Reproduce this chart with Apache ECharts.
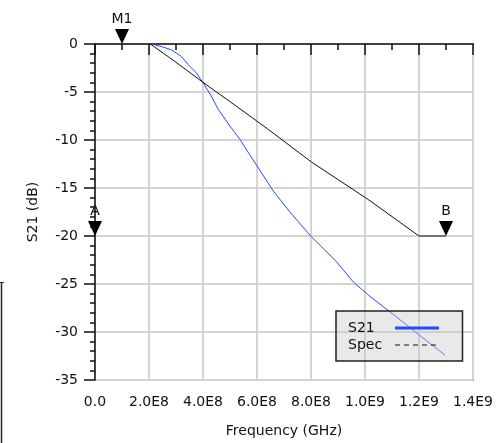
<!DOCTYPE html>
<html>
<head>
<meta charset="utf-8">
<script src="https://cdn.jsdelivr.net/npm/echarts@6/dist/echarts.min.js"></script>
<style>
  html, body { margin: 0; padding: 0; background: #fff; }
  #s21-chart { width: 500px; height: 443px; }
</style>
</head>
<body>
<div id="s21-chart"></div>
<script>
// S21 measured curve (Hz, dB)
var s21Freq = [2.1e8, 2.5e8, 2.84e8, 3.2e8, 3.46e8, 3.75e8, 4.01e8, 4.3e8, 4.57e8, 5.0e8, 5.37e8, 5.56e8, 6.0e8, 6.6e8, 7.22e8, 8.02e8, 8.4e8, 8.95e8, 9.57e8, 1.019e9, 1.074e9, 1.111e9, 1.191e9, 1.296e9];
var s21Db = [0, -0.3, -0.62, -1.3, -2.17, -3.0, -4.07, -5.4, -6.83, -8.56, -9.94, -10.8, -12.7, -15.3, -17.5, -20.1, -21.15, -22.7, -24.8, -26.3, -27.5, -28.3, -30.1, -32.4];

// Spec mask line
var specFreq = [2.05e8, 3.0e8, 4.0e8, 5.0e8, 6.42e8, 8.02e8, 1.012e9, 1.2e9, 1.3e9];
var specDb = [0, -1.9, -4.0, -6.0, -8.9, -12.3, -16.2, -20, -20];

// markers
var markerNames = ["M1", "A", "B"];
var markerFreq = [1.0e8, 0, 1.3e9];
var markerDb = [0, -20, -20];

// axis ticks
var xMin = 0, xMax = 1.4e9, xStep = 2e8;
var yMin = -35, yMax = 0, yStep = 5;

function pairs(xs, ys) {
  var out = [];
  for (var i = 0; i < xs.length; i++) out.push([xs[i], ys[i]]);
  return out;
}

var font = "DejaVu Sans";
var textColor = "#111";
var blue = "#1f4dff";
var chart = echarts.init(document.getElementById("s21-chart"), null, { renderer: "canvas" });

var markerData = [];
for (var i = 0; i < markerNames.length; i++) {
  markerData.push({ name: markerNames[i], value: [markerFreq[i], markerDb[i]] });
}

var option = {
  animation: false,
  backgroundColor: "#fff",
  grid: {
    left: 95, top: 44, right: 27, bottom: 61,
    show: true, borderColor: "#222", borderWidth: 1.5
  },
  legend: {
    orient: "vertical",
    left: 336, top: 311,
    padding: [10, 22, 9, 12],
    itemGap: 3,
    itemWidth: 44,
    itemHeight: 14,
    align: "right",
    backgroundColor: "rgba(200,200,200,0.4)",
    borderColor: "#222",
    borderWidth: 1.5,
    borderRadius: 0,
    formatter: function (name) { return "{t|" + name + "}"; },
    textStyle: {
      fontFamily: font, fontSize: 14, color: textColor,
      rich: { t: { width: 42, align: "left", fontFamily: font, fontSize: 14, color: textColor } }
    },
    data: [
      { name: "S21", lineStyle: { width: 3, color: blue }, itemStyle: { color: "transparent", borderWidth: 0 } },
      { name: "Spec", lineStyle: { type: [5, 4], width: 1, color: "#111" }, itemStyle: { color: "transparent", borderWidth: 0 } }
    ]
  },
  xAxis: {
    type: "value",
    min: xMin, max: xMax, interval: xStep,
    name: "Frequency (GHz)",
    nameLocation: "middle",
    nameGap: 44,
    nameTextStyle: { fontFamily: font, fontSize: 14, color: textColor },
    axisLine: { lineStyle: { color: "#111", width: 1.5 } },
    axisTick: { length: 11, lineStyle: { color: "#111", width: 1.5 } },
    minorTick: { show: true, splitNumber: 2, length: 6, lineStyle: { color: "#111", width: 1.5 } },
    axisLabel: {
      margin: 15,
      fontFamily: font, fontSize: 14, color: textColor,
      formatter: function (v) {
        if (v === 0) return "0.0";
        return v.toExponential(1).toUpperCase().replace("+", "");
      }
    },
    splitLine: { show: true, lineStyle: { color: "#d4d4d4", width: 2 } }
  },
  yAxis: {
    type: "value",
    min: yMin, max: yMax, interval: yStep,
    name: "S21 (dB)",
    nameLocation: "middle",
    nameGap: 55,
    nameTextStyle: { fontFamily: font, fontSize: 14, color: textColor },
    axisLine: { lineStyle: { color: "#111", width: 1.5 } },
    axisTick: { length: 11, lineStyle: { color: "#111", width: 1.5 } },
    minorTick: { show: true, splitNumber: 5, length: 5, lineStyle: { color: "#111", width: 1.5 } },
    axisLabel: { margin: 17, fontFamily: font, fontSize: 14, color: textColor },
    splitLine: { show: true, lineStyle: { color: "#d4d4d4", width: 2 } }
  },
  graphic: [
    { type: "line", shape: { x1: 1.5, y1: 282, x2: 1.5, y2: 443 }, style: { stroke: "#222", lineWidth: 1.5 } },
    { type: "line", shape: { x1: 0, y1: 282.5, x2: 4, y2: 282.5 }, style: { stroke: "#222", lineWidth: 1 } }
  ],
  series: [
    {
      name: "S21",
      type: "line",
      data: pairs(s21Freq, s21Db),
      symbol: "none",
      lineStyle: { color: blue, width: 1 },
      itemStyle: { color: blue },
      z: 3
    },
    {
      name: "Spec",
      type: "line",
      data: pairs(specFreq, specDb),
      symbol: "none",
      lineStyle: { color: "#111", width: 1 },
      itemStyle: { color: "#111" },
      z: 3
    },
    {
      name: "markers",
      type: "scatter",
      data: markerData,
      clip: false,
      symbol: "path://M0,0 L10,0 L5,10 Z",
      symbolSize: [14, 15],
      symbolOffset: [0, "-50%"],
      itemStyle: { color: "#000", opacity: 1 },
      emphasis: { disabled: true },
      label: {
        show: true,
        position: "top",
        distance: 3,
        formatter: function (p) { return p.name; },
        fontFamily: font, fontSize: 14, color: textColor
      },
      z: 5
    }
  ]
};

chart.setOption(option);
</script>
</body>
</html>
